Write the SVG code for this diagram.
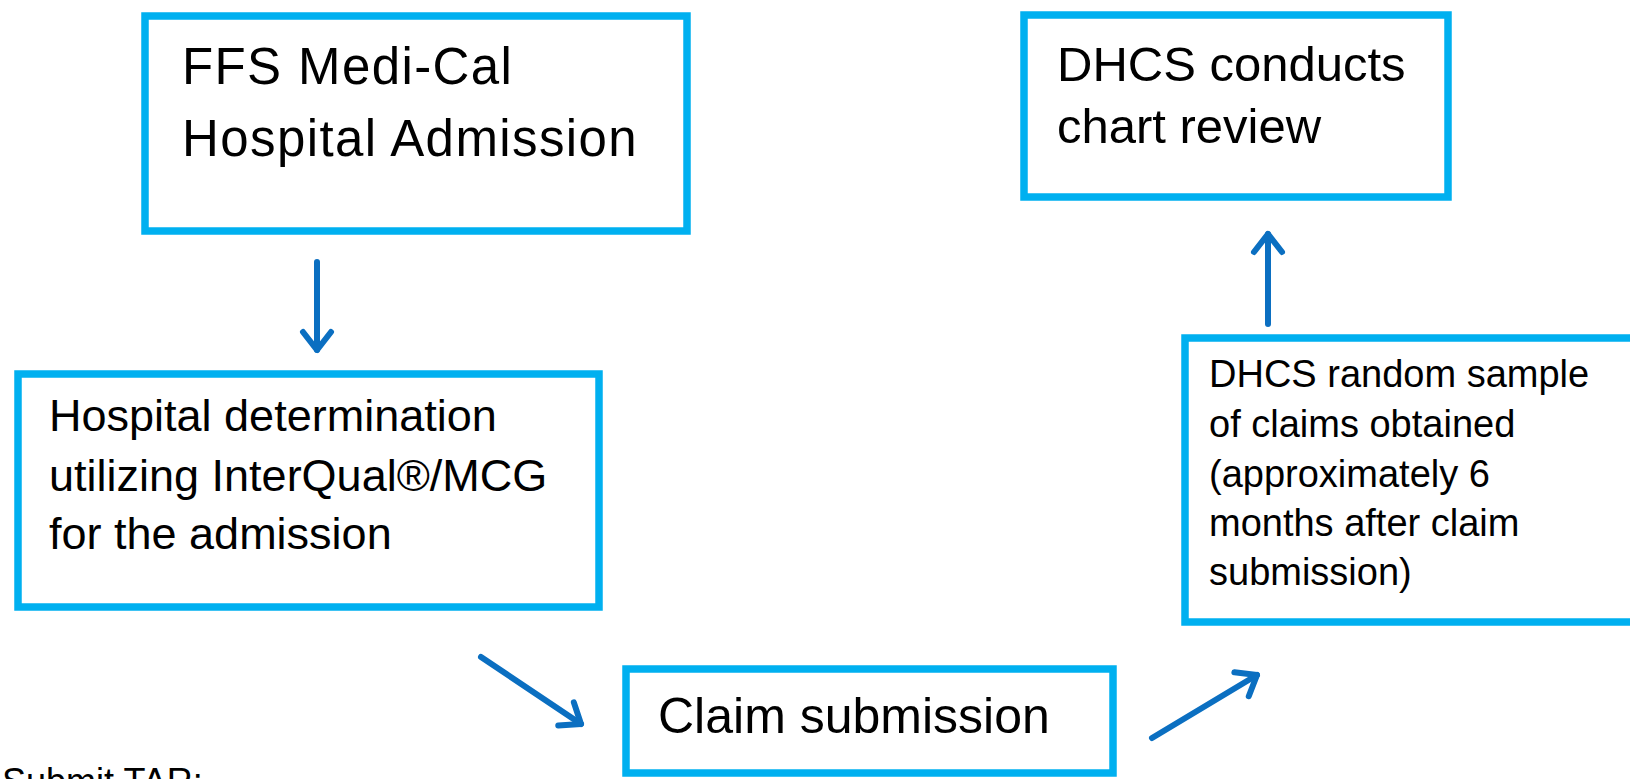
<svg xmlns="http://www.w3.org/2000/svg" width="1630" height="779" viewBox="0 0 1630 779">
  <style>
    .box { fill: #ffffff; stroke: #00B0F0; stroke-width: 7.5; }
    .t { font-family: "Liberation Sans", Arial, sans-serif; fill: #000000; }
    .big { font-size: 51px; }
    .wide { letter-spacing: 1.4px; }
    .b49 { font-size: 49px; }
    .b50 { font-size: 50px; }
    .mid { font-size: 45px; }
    .sm { font-size: 38px; }
    .conn { fill: none; stroke: #0B6FC1; stroke-width: 6; stroke-linecap: round; }
  </style>
  <defs>
    <marker id="chev" markerUnits="userSpaceOnUse" viewBox="0 0 40 40" markerWidth="40" markerHeight="40" refX="22" refY="20" orient="auto">
      <path d="M 4 6 L 22 20 L 4 34" fill="none" stroke="#0B6FC1" stroke-width="6" stroke-linecap="round" stroke-linejoin="round"/>
    </marker>
  </defs>
  <rect width="1630" height="779" fill="#ffffff"/>

  <g id="node-ffs">
    <rect class="box" x="145" y="16" width="542" height="215"/>
    <text class="t big wide" x="182" y="84">FFS Medi-Cal</text>
    <text class="t big wide" x="182" y="156">Hospital Admission</text>
  </g>

  <g id="node-chart-review">
    <rect class="box" x="1024" y="15" width="424" height="182"/>
    <text class="t b49" x="1057" y="81">DHCS conducts</text>
    <text class="t b49" x="1057" y="143">chart review</text>
  </g>

  <g id="node-determination">
    <rect class="box" x="18" y="374" width="581" height="233"/>
    <text class="t mid" x="49" y="431">Hospital determination</text>
    <text class="t mid" x="49" y="491">utilizing InterQual®/MCG</text>
    <text class="t mid" x="49" y="549">for the admission</text>
  </g>

  <g id="node-claim">
    <rect class="box" x="626" y="669" width="487" height="104"/>
    <text class="t b50" x="658" y="733">Claim submission</text>
  </g>

  <g id="node-sample">
    <rect class="box" x="1185" y="338" width="480" height="284"/>
    <text class="t sm" x="1209" y="387">DHCS random sample</text>
    <text class="t sm" x="1209" y="437">of claims obtained</text>
    <text class="t sm" x="1209" y="487">(approximately 6</text>
    <text class="t sm" x="1209" y="536">months after claim</text>
    <text class="t sm" x="1209" y="585">submission)</text>
  </g>

  <g id="label-tar">
    <text class="t" x="2" y="794" font-size="36" fill="#222222">Submit TAR:</text>
  </g>

  <g id="connectors">
    <path class="conn" d="M 317 262 L 317 350" marker-end="url(#chev)"/>
    <path class="conn" d="M 481 657 L 581 724" marker-end="url(#chev)"/>
    <path class="conn" d="M 1152 738 L 1257 675" marker-end="url(#chev)"/>
    <path class="conn" d="M 1268 324 L 1268 234" marker-end="url(#chev)"/>
  </g>
</svg>
